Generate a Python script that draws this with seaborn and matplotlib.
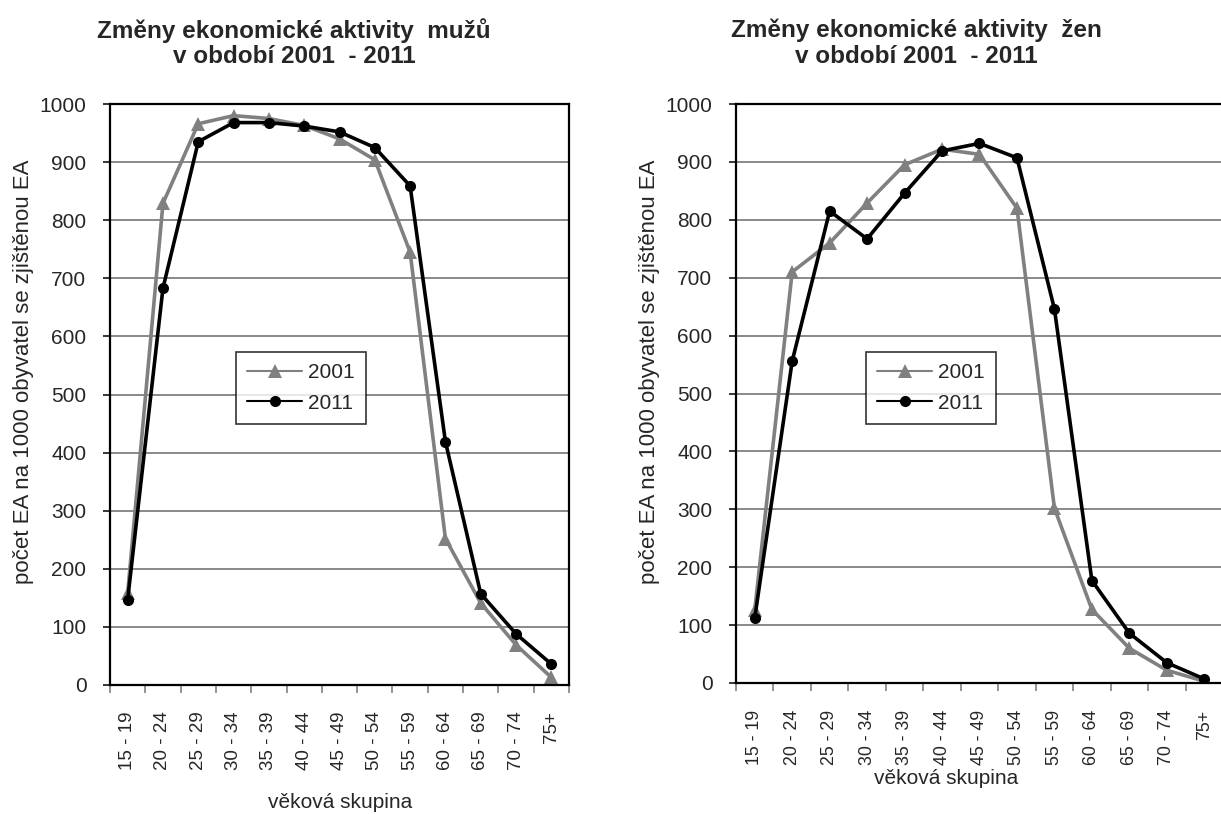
import numpy as np
import matplotlib
matplotlib.use("Agg")
import matplotlib.pyplot as plt
import pandas as pd
import seaborn as sns
from matplotlib.ticker import FixedLocator

# age groups and values (per 1000 inhabitants)
groups = ["15 - 19", "20 - 24", "25 - 29", "30 - 34", "35 - 39", "40 - 44", "45 - 49",
          "50 - 54", "55 - 59", "60 - 64", "65 - 69", "70 - 74", "75+"]
men_2001 = [158, 829, 966, 980, 975, 963, 940, 904, 745, 252, 141, 69, 13]
men_2011 = [147, 683, 935, 968, 968, 962, 952, 925, 859, 419, 157, 88, 36]
women_2001 = [126, 710, 760, 829, 895, 922, 913, 820, 302, 127, 60, 22, 3]
women_2011 = [112, 556, 815, 767, 846, 919, 932, 907, 646, 177, 86, 35, 7]

years = ["2001", "2011"]
titles = ["Změny ekonomické aktivity  mužů\nv období 2001  - 2011",
          "Změny ekonomické aktivity  žen\nv období 2001  - 2011"]
ylabel = "počet EA na 1000 obyvatel se zjištěnou EA"
xlabel = "věková skupina"

sns.set_style("white")
plt.rcParams['font.family'] = ['Liberation Sans', 'DejaVu Sans']

W, H = 1221, 814


def make_df(v2001, v2011):
    df = pd.DataFrame({"skupina": groups * 2,
                       "rok": ["2001"] * len(groups) + ["2011"] * len(groups),
                       "hodnota": list(v2001) + list(v2011)})
    df["pos"] = list(range(len(groups))) * 2
    return df


def draw(ax, df, title, title_x, legend_xy, xfont):
    sns.lineplot(data=df, x="pos", y="hodnota", hue="rok", style="rok",
                 palette={"2001": "#808080", "2011": "#000000"},
                 markers={"2001": "^", "2011": "o"}, dashes=False,
                 linewidth=2.6, markersize=9.5, markeredgewidth=0,
                 sort=False, ax=ax, legend=False)
    # 2011 circles a bit smaller
    ax.lines[1].set_markersize(8)

    ax.set_xlim(-0.5, len(groups) - 0.5)
    ax.set_ylim(0, 1000)
    ax.set_yticks(np.arange(0, 1001, 100))
    ax.yaxis.grid(True, color="#808080", linewidth=1.3)
    ax.set_axisbelow(True)
    for s in ax.spines.values():
        s.set_color("black")
        s.set_linewidth(1.6)

    ax.set_xticks(range(len(groups)))
    ax.set_xticklabels(groups, rotation=90, fontsize=xfont, va="top")
    ax.xaxis.set_minor_locator(FixedLocator(np.arange(-0.5, len(groups), 1)))
    ax.tick_params(axis="x", which="major", length=0, pad=19)
    ax.tick_params(axis="x", which="minor", length=6, width=1.2, color="#808080",
                   direction="out", bottom=True)
    ax.tick_params(axis="y", length=5, width=1.3, direction="out", left=True,
                   labelsize=15, pad=12)

    ax.set_xlabel("")
    ax.set_ylabel("")

    h1 = plt.Line2D([], [], color="#808080", marker="^", markersize=9.5, linewidth=1.5, markeredgewidth=0)
    h2 = plt.Line2D([], [], color="black", marker="o", markersize=8, linewidth=1.5, markeredgewidth=0)
    leg = ax.legend([h1, h2], years, loc="center",
                    bbox_to_anchor=(legend_xy[0] / W, 1 - legend_xy[1] / H),
                    bbox_transform=ax.figure.transFigure, fontsize=15, frameon=True,
                    fancybox=False, edgecolor="black", handlelength=2.6,
                    labelspacing=0.55, borderpad=0.55, handletextpad=0.3)
    leg.get_frame().set_linewidth(1.2)

    ax.figure.text(title_x / W, 1 - 43 / H, title, ha="center", va="center",
                   fontsize=17.5, fontweight="bold", linespacing=1.15)


fig = plt.figure(figsize=(W / 100, H / 100), dpi=100)
ax1 = fig.add_axes([110 / W, (H - 685) / H, 459 / W, 581 / H])
ax2 = fig.add_axes([736 / W, (H - 683) / H, 487 / W, 579 / H])

draw(ax1, make_df(men_2001, men_2011), titles[0], 294, (301, 388), 13.5)
draw(ax2, make_df(women_2001, women_2011), titles[1], 916, (931, 388), 12.8)
ax2.spines["right"].set_visible(False)

# axis labels
fig.text(24 / W, 1 - 372 / H, ylabel, rotation=90, ha="center", va="center", fontsize=16)
fig.text(650 / W, 1 - 372 / H, ylabel, rotation=90, ha="center", va="center", fontsize=16)
fig.text(340 / W, 1 - 802 / H, xlabel, ha="center", va="center", fontsize=15)
fig.text(946 / W, 1 - 778 / H, xlabel, ha="center", va="center", fontsize=15)

fig.savefig("out.png", dpi=100)
